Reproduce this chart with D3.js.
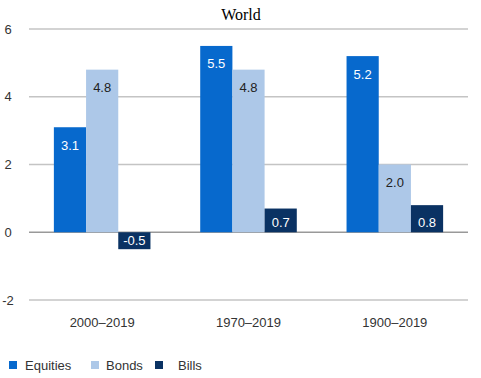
<!DOCTYPE html>
<html>
<head>
<meta charset="utf-8">
<script src="https://cdn.jsdelivr.net/npm/d3@7"></script>
<style>
  body { margin: 0; background: #fff; }
  svg text { font-family: "Liberation Sans", Arial, sans-serif; }
</style>
</head>
<body>
<svg id="chart" width="481" height="378"></svg>
<script>
// chart data
const periods = ["2000–2019", "1970–2019", "1900–2019"];
const seriesNames = ["Equities", "Bonds", "Bills"];
const equities = [3.1, 5.5, 5.2];
const bonds = [4.8, 4.8, 2.0];
const bills = [-0.5, 0.7, 0.8];
const yTicks = [-2, 0, 2, 4, 6];

const colors = ["#0769cd", "#adc8e8", "#0a3263"];
const labelColors = ["#fff", "#222", "#fff"];

const margin = { top: 29, right: 13, bottom: 78, left: 29 },
    width = 481 - margin.left - margin.right,
    height = 378 - margin.top - margin.bottom;

const svg = d3.select("#chart");

svg.append("text")
    .attr("x", 241)
    .attr("y", 20)
    .attr("text-anchor", "middle")
    .style("font-family", "'Liberation Serif', 'Times New Roman', serif")
    .style("font-size", "16px")
    .attr("fill", "#000")
    .text("World");

const g = svg.append("g")
    .attr("transform", `translate(${margin.left},${margin.top})`);

const y = d3.scaleLinear().domain([-2, 6]).range([271, 0]);

const x0 = d3.scaleBand()
    .domain(periods)
    .range([0, width])
    .paddingInner(0.34)
    .paddingOuter(0.17);

const x1 = d3.scaleBand()
    .domain(seriesNames)
    .range([0, x0.bandwidth()]);

// gridlines
g.append("g")
    .selectAll("line")
    .data(yTicks)
    .enter()
    .append("line")
    .attr("x1", 0)
    .attr("x2", width)
    .attr("y1", d => y(d))
    .attr("y2", d => y(d))
    .attr("stroke", d => d === 0 ? "#999" : "#c4c4c4")
    .attr("stroke-width", d => d === 0 ? 1.6 : 1.4);

// y tick labels
g.append("g")
    .selectAll("text")
    .data(yTicks)
    .enter()
    .append("text")
    .attr("x", -21)
    .attr("y", d => y(d))
    .attr("dy", "0.35em")
    .attr("text-anchor", "middle")
    .attr("fill", "#333")
    .style("font-size", "13px")
    .text(d => d);

const table = periods.map((p, i) => ({
    period: p,
    values: [equities[i], bonds[i], bills[i]]
}));

const groups = g.append("g")
    .selectAll("g")
    .data(table)
    .enter()
    .append("g")
    .attr("transform", d => `translate(${x0(d.period)},0)`);

const bars = groups.selectAll("g")
    .data(d => d.values.map((v, k) => ({ name: seriesNames[k], k: k, value: v })))
    .enter()
    .append("g");

bars.append("rect")
    .attr("x", d => x1(d.name))
    .attr("width", x1.bandwidth())
    .attr("y", d => y(Math.max(0, d.value)))
    .attr("height", d => Math.abs(y(d.value) - y(0)))
    .attr("fill", d => colors[d.k]);

bars.append("text")
    .attr("x", d => x1(d.name) + x1.bandwidth() / 2)
    .attr("y", d => {
        if (d.value < 0) return (y(0) + y(d.value)) / 2;
        return Math.min(y(d.value) + 18, y(0) - 10);
    })
    .attr("dy", "0.35em")
    .attr("text-anchor", "middle")
    .attr("fill", d => labelColors[d.k])
    .style("font-size", "13px")
    .text(d => d.value.toFixed(1));

// category labels
g.append("g")
    .selectAll("text")
    .data(periods)
    .enter()
    .append("text")
    .attr("x", d => x0(d) + x0.bandwidth() / 2)
    .attr("y", 293)
    .attr("dy", "0.35em")
    .attr("text-anchor", "middle")
    .attr("fill", "#333")
    .style("font-size", "13px")
    .text(d => d);

// legend
const legendX = [9, 91, 155];
const legend = svg.append("g")
    .selectAll("g")
    .data(seriesNames)
    .enter()
    .append("g")
    .attr("transform", (d, i) => `translate(${legendX[i]},365)`);

legend.append("rect")
    .attr("x", 0)
    .attr("y", -4)
    .attr("width", 8)
    .attr("height", 8)
    .attr("fill", (d, i) => colors[i]);

legend.append("text")
    .attr("x", (d, i) => i === 0 ? 16 : (i === 1 ? 15 : 23))
    .attr("y", 0)
    .attr("dy", "0.35em")
    .attr("fill", "#333")
    .style("font-size", "13px")
    .text(d => d);
</script>
</body>
</html>
